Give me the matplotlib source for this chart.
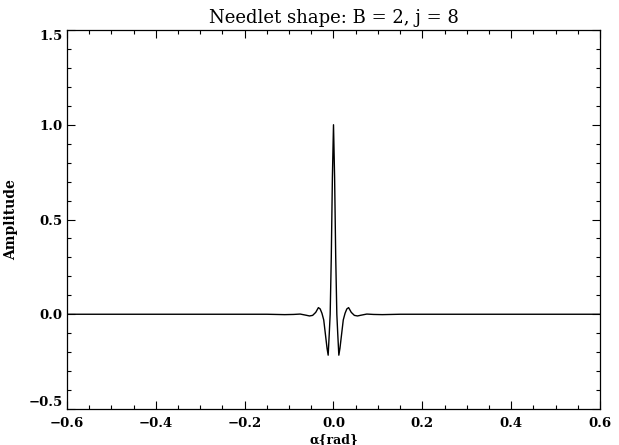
import matplotlib

matplotlib.use("Agg")
import matplotlib.pyplot as plt
from matplotlib.ticker import MultipleLocator

# needlet profile (alpha in rad, normalised amplitude)
alpha = [
    -0.600, -0.300, -0.150, -0.110, -0.090, -0.075, -0.062, -0.054, -0.047,
    -0.040, -0.034, -0.030, -0.026, -0.022, -0.018, -0.0145, -0.012, -0.0095,
    -0.0075, -0.005, -0.0025, 0.000, 0.0025, 0.005, 0.0075, 0.0095, 0.012,
    0.0145, 0.018, 0.022, 0.026, 0.030, 0.034, 0.040, 0.047, 0.054, 0.062,
    0.075, 0.090, 0.110, 0.150, 0.300, 0.600,
]
amplitude = [
    0.000, 0.000, 0.000, -0.002, -0.001, 0.001, -0.005, -0.009, -0.006,
    0.010, 0.035, 0.028, 0.005, -0.030, -0.110, -0.180, -0.216, -0.100,
    0.000, 0.300, 0.720, 1.000, 0.720, 0.300, 0.000, -0.100, -0.216,
    -0.180, -0.110, -0.030, 0.005, 0.028, 0.035, 0.010, -0.006, -0.009, -0.005,
    0.001, -0.001, -0.002, 0.000, 0.000, 0.000,
]

title = "Needlet shape: B = 2, j = 8"
x_label = "α{rad}"
y_label = "Amplitude"

fig = plt.figure(figsize=(6.19, 4.45), dpi=100)
ax = fig.add_axes([67 / 619, 1 - 409 / 445, 533 / 619, 379 / 445])
ax.plot(alpha, amplitude, color="black", lw=1.0)

ax.set_xlim(-0.6, 0.6)
ax.set_ylim(-0.5, 1.5)
ax.xaxis.set_major_locator(MultipleLocator(0.2))
ax.xaxis.set_minor_locator(MultipleLocator(0.05))
ax.yaxis.set_major_locator(MultipleLocator(0.5))
ax.yaxis.set_minor_locator(MultipleLocator(0.1))
ax.tick_params(which="both", direction="in", top=True, right=True, width=0.8)
ax.tick_params(which="major", length=5.5)
ax.tick_params(which="minor", length=2.8)
ax.tick_params(axis="x", pad=5.5)
ax.tick_params(axis="y", pad=3)
fig.canvas.draw()
for lab in ax.get_xticklabels() + ax.get_yticklabels():
    lab.set_fontfamily("DejaVu Serif")
    lab.set_fontweight("bold")
    lab.set_fontsize(9.5)
# IDL nudges the end labels of the y axis inwards
ymin, ymax = ax.get_ylim()
for tick in ax.yaxis.get_major_ticks():
    if abs(tick.get_loc() - ymin) < 1e-9:
        tick.label1.set_verticalalignment("bottom")
    elif abs(tick.get_loc() - ymax) < 1e-9:
        tick.label1.set_verticalalignment("top")
for sp in ax.spines.values():
    sp.set_linewidth(0.9)

ax.set_title(title, family="DejaVu Serif", fontsize=13, pad=5)
ax.set_xlabel(x_label, family="DejaVu Serif", fontweight="bold", fontsize=9, va="center")
ax.set_ylabel(y_label, family="DejaVu Serif", fontweight="bold", fontsize=10)
ax.xaxis.set_label_coords(0.5, -0.081)
ax.yaxis.set_label_coords(-0.092, 0.5)

fig.savefig("out.png", dpi=100)
